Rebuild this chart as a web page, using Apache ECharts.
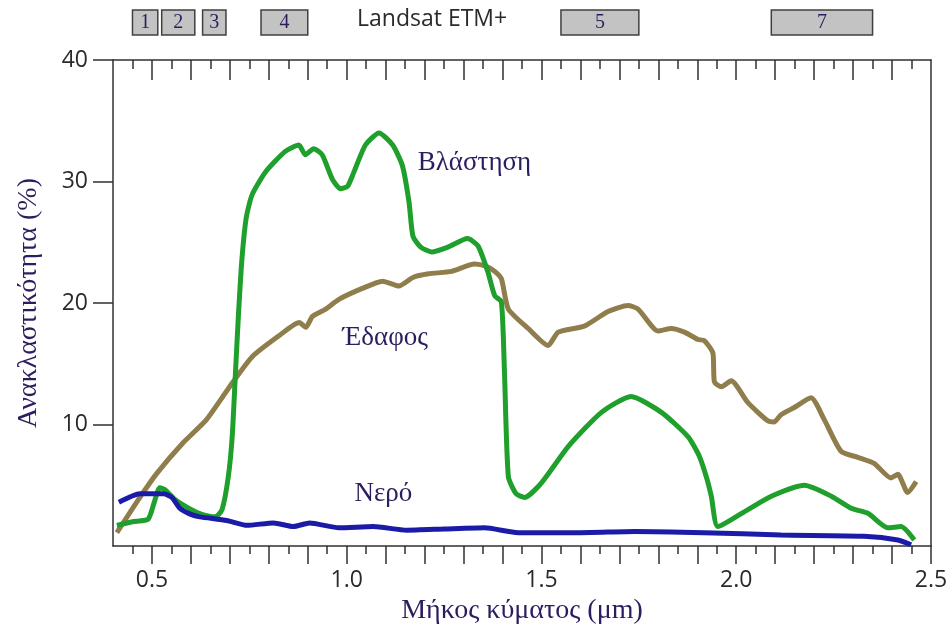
<!DOCTYPE html>
<html>
<head>
<meta charset="utf-8">
<script src="https://cdn.jsdelivr.net/npm/echarts@6/dist/echarts.min.js"></script>
<style>html,body{margin:0;padding:0;background:#fff}#c{width:952px;height:632px}</style>
</head>
<body>
<div id="c"></div>
<script>
// ---- data ----
const vegetation = [[0.41,1.7],[0.45,2.0],[0.49,2.2],[0.505,3.5],[0.52,4.8],[0.535,4.6],[0.56,3.8],[0.60,3.0],[0.628,2.6],[0.663,2.4],[0.68,3.0],[0.696,5.7],[0.706,9],[0.714,14],[0.722,19],[0.731,23.6],[0.742,27],[0.757,28.9],[0.792,30.8],[0.843,32.5],[0.877,33.0],[0.894,32.2],[0.915,32.7],[0.937,32.2],[0.963,30.2],[0.984,29.4],[1.002,29.6],[1.015,30.5],[1.048,33.0],[1.083,34.0],[1.118,33.0],[1.143,31.3],[1.16,28.3],[1.17,25.5],[1.19,24.6],[1.218,24.2],[1.26,24.6],[1.31,25.3],[1.337,24.7],[1.362,22.6],[1.38,20.6],[1.397,20.1],[1.405,14.3],[1.415,5.7],[1.435,4.3],[1.457,4.0],[1.50,5.2],[1.569,8.2],[1.654,11.0],[1.73,12.3],[1.808,11.0],[1.876,9.0],[1.905,7.4],[1.925,5.5],[1.936,4.1],[1.953,1.6],[2.03,3.0],[2.09,4.1],[2.175,5.0],[2.244,4.1],[2.295,3.1],[2.338,2.7],[2.389,1.5],[2.423,1.6],[2.457,0.5]];
const soil = [[0.41,1.1],[0.469,4.0],[0.513,6.0],[0.58,8.5],[0.64,10.4],[0.708,13.5],[0.758,15.6],[0.826,17.3],[0.878,18.4],[0.895,18.0],[0.912,18.9],[0.946,19.5],[0.98,20.3],[1.04,21.2],[1.092,21.8],[1.134,21.4],[1.17,22.1],[1.21,22.4],[1.269,22.6],[1.328,23.2],[1.36,23.0],[1.38,22.6],[1.397,22.0],[1.415,19.5],[1.466,17.9],[1.517,16.5],[1.543,17.6],[1.61,18.1],[1.671,19.3],[1.722,19.8],[1.748,19.5],[1.799,17.7],[1.833,17.9],[1.867,17.6],[1.902,17.0],[1.918,16.9],[1.94,15.9],[1.944,13.5],[1.962,13.1],[1.987,13.6],[2.03,11.8],[2.081,10.3],[2.097,10.2],[2.115,10.8],[2.149,11.4],[2.192,12.2],[2.226,10.4],[2.269,7.8],[2.312,7.3],[2.354,6.8],[2.397,5.6],[2.415,5.9],[2.44,4.4],[2.462,5.3]];
const water = [[0.415,3.6],[0.469,4.3],[0.53,4.3],[0.551,4.0],[0.572,3.1],[0.60,2.6],[0.623,2.4],[0.692,2.1],[0.744,1.7],[0.812,1.9],[0.863,1.6],[0.905,1.9],[0.98,1.5],[1.068,1.6],[1.154,1.3],[1.25,1.4],[1.354,1.5],[1.44,1.1],[1.6,1.1],[1.739,1.2],[1.917,1.1],[2.115,0.9],[2.328,0.8],[2.415,0.5],[2.449,0.1]];
const bands = [[0.45,0.515,'1'],[0.525,0.61,'2'],[0.63,0.69,'3'],[0.78,0.90,'4'],[1.55,1.75,'5'],[2.09,2.35,'7']];
const seriesNames = ['Βλάστηση','Έδαφος','Νερό'];
const labelAnchors = [[1.328,31.5],[1.099,17.15],[1.094,4.25]];
const xLabelValues = [0.5,1.0,1.5,2.0,2.5];
const xMajorTicks = [0.5,0.6,0.7,0.8,0.9,1.0,1.1,1.2,1.3,1.4,1.5,1.6,1.7,1.8,1.9,2.0,2.1,2.2,2.3,2.4,2.5];
const xMinorTicks = [0.45,0.55,0.65,0.75,0.85,0.95,1.05,1.15,1.25,1.35,1.45,1.55,1.65,1.75,1.85,1.95,2.05,2.15,2.25,2.35,2.45];
const yLabelValues = [10,20,30,40];
const xName = 'Μήκος κύματος (μm)';
const yName = 'Ανακλαστικότητα (%)';
const bandTitle = 'Landsat ETM+';

const serif = '"Liberation Serif","DejaVu Serif",serif';
const sans = '"Open Sans",Lato,sans-serif';
const txtCol = '#2e1d5e';
const axCol = '#303030';

const chart = echarts.init(document.getElementById('c'), null, {renderer:'canvas'});

function tickAxis(pos, ticks, len, inside, showLine, labels) {
  return {
    type:'value', gridIndex:0, position:pos, min:0.4, max:2.5, interval:0.1,
    axisLine:{show:showLine, onZero:false, lineStyle:{color:axCol, width:1.5}},
    axisTick:{show:true, inside:inside, length:len, customValues:ticks, lineStyle:{color:axCol, width:1.5}},
    axisLabel: labels ? {show:true, customValues:labels, formatter:v=>v.toFixed(1), margin:23, fontSize:23, fontFamily:sans, color:'#2a2a2a'} : {show:false},
    splitLine:{show:false}
  };
}

const xAxes = [
  Object.assign(tickAxis('bottom', xMajorTicks, 18, false, true, xLabelValues), {
    name:xName, nameLocation:'middle', nameGap:50,
    nameTextStyle:{fontFamily:serif, fontSize:28, color:txtCol}
  }),
  tickAxis('bottom', xMinorTicks, 8, false, false, null),
  tickAxis('top', xMajorTicks.slice(0,-1), 20, true, true, null),
  tickAxis('top', xMinorTicks, 9, true, false, null),
  {type:'value', gridIndex:1, min:0.4, max:2.5, show:false}
];

const option = {
  animation:false,
  backgroundColor:'#fff',
  grid:[
    {left:113, right:21, top:60, bottom:86},
    {left:113, right:21, top:10, height:25}
  ],
  xAxis:xAxes,
  yAxis:[
    {type:'value', gridIndex:0, position:'left', min:0, max:40, interval:10,
     name:yName, nameLocation:'middle', nameGap:70,
     nameTextStyle:{fontFamily:serif, fontSize:28, color:txtCol},
     axisLine:{show:true, lineStyle:{color:axCol, width:1.5}},
     axisTick:{show:true, length:20, customValues:yLabelValues, lineStyle:{color:axCol, width:1.5}},
     axisLabel:{customValues:yLabelValues, margin:25, fontSize:23, fontFamily:sans, color:'#2a2a2a'},
     splitLine:{show:false}},
    {type:'value', gridIndex:0, position:'right', min:0, max:40,
     axisLine:{show:true, lineStyle:{color:axCol, width:1.5}},
     axisTick:{show:false}, axisLabel:{show:false}, splitLine:{show:false}},
    {type:'value', gridIndex:1, min:0, max:1, show:false}
  ],
  graphic:[
    {type:'text', left:357, top:8, style:{text:bandTitle, font:'23px '+sans, fill:'#2a2a2a'}}
  ],
  series:[
    {name:seriesNames[1], type:'line', xAxisIndex:0, yAxisIndex:0, data:soil, showSymbol:false, smooth:0.2,
     lineStyle:{color:'#8f7d4c', width:5}, z:2,
     markPoint:{symbol:'circle', symbolSize:0, silent:true,
       label:{show:true, formatter:seriesNames[1], fontFamily:serif, fontSize:27, color:txtCol},
       data:[{coord:labelAnchors[1]}]}},
    {name:seriesNames[0], type:'line', xAxisIndex:0, yAxisIndex:0, data:vegetation, showSymbol:false, smooth:0.2,
     lineStyle:{color:'#1f9f2b', width:5}, z:3,
     markPoint:{symbol:'circle', symbolSize:0, silent:true,
       label:{show:true, formatter:seriesNames[0], fontFamily:serif, fontSize:27, color:txtCol},
       data:[{coord:labelAnchors[0]}]}},
    {name:seriesNames[2], type:'line', xAxisIndex:0, yAxisIndex:0, data:water, showSymbol:false, smooth:0.2,
     lineStyle:{color:'#1b1ba8', width:5}, z:4,
     markPoint:{symbol:'circle', symbolSize:0, silent:true,
       label:{show:true, formatter:seriesNames[2], fontFamily:serif, fontSize:27, color:txtCol},
       data:[{coord:labelAnchors[2]}]}},
    {type:'custom', xAxisIndex:4, yAxisIndex:2, clip:false,
     data:bands,
     renderItem:function(params, api){
       const p0 = api.coord([api.value(0), 1]);
       const p1 = api.coord([api.value(1), 0]);
       return {type:'group', children:[
         {type:'rect', shape:{x:p0[0], y:p0[1], width:p1[0]-p0[0], height:p1[1]-p0[1]},
          style:{fill:'#c3c3c3', stroke:'#404040', lineWidth:1.5}},
         {type:'text', x:(p0[0]+p1[0])/2, y:(p0[1]+p1[1])/2,
          style:{text:bands[params.dataIndex][2], font:'20px '+serif, fill:txtCol, align:'center', verticalAlign:'middle'}}
       ]};
     }}
  ]
};
chart.setOption(option);
</script>
</body>
</html>
